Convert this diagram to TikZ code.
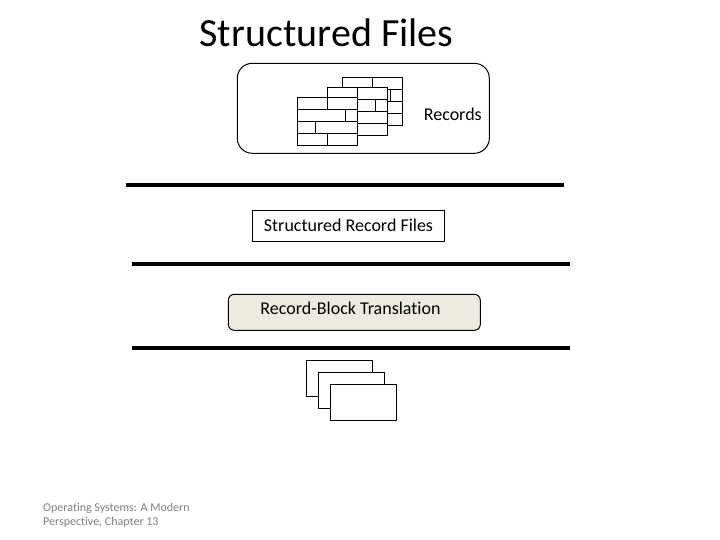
\documentclass[tikz,border=0pt]{standalone}
\usepackage{fontspec}
\setmainfont[Ligatures=NoCommon]{Carlito}
\definecolor{rbtfill}{HTML}{EDEBE0}
\definecolor{footgray}{HTML}{808080}
\tikzset{
  outline/.style={draw=black,line width=1pt},
  sepline/.style={draw=black,line width=4pt},
  sheet/.style={outline,fill=white},
  label/.style={inner sep=0pt,text=black},
}
\newcommand{\recsheet}[2]{%
  \begin{scope}[shift={(#1,#2)}]
    \filldraw[sheet] (0,0) rectangle (60,48);
    \draw[outline] (0,12) -- (60,12) (0,24) -- (60,24) (0,36) -- (60,36)
      (30,0) -- (30,12) (48,12) -- (48,24) (18,24) -- (18,36) (30,36) -- (30,48);
  \end{scope}}
\begin{document}
\begin{tikzpicture}[x=1pt,y=-1pt]
\useasboundingbox (0,0) rectangle (720,540);
\fill[white] (0,0) rectangle (720,540);
\node[label,font=\fontsize{40}{44}\selectfont] (title) at (326.5,33) {Structured Files};
\node[outline,rounded corners=15pt,minimum width=252pt,minimum height=90pt,inner sep=0pt] (recbox) at (363.3,108.3) {};
\recsheet{342.3}{77.3}
\recsheet{327.3}{87.3}
\recsheet{297.3}{97.3}
\node[label,font=\fontsize{18}{20}\selectfont] (records) at (452.8,114.5) {Records};
\draw[sepline] (126,185) -- (564,185);
\node[outline,minimum width=192pt,minimum height=30pt,inner sep=0pt] (srf) at (348,226) {};
\node[label,font=\fontsize{18}{20}\selectfont] (srftext) at (348.5,225) {Structured Record Files};
\draw[sepline] (132,263.5) -- (570,263.5);
\node[outline,fill=rbtfill,rounded corners=6pt,minimum width=252pt,minimum height=36pt,inner sep=0pt] (rbt) at (354.3,312.3) {};
\node[label,font=\fontsize{18}{20}\selectfont] (rbttext) at (350.5,308) {Record-Block Translation};
\draw[sepline] (132,347.5) -- (570,347.5);
\filldraw[sheet] (306.3,360.3) rectangle (372.7,396.3);
\filldraw[sheet] (318.3,372.3) rectangle (384.7,408.3);
\filldraw[sheet] (330.3,384.3) rectangle (396.7,420.3);
\node[label,text=footgray,align=left,anchor=north west,font=\fontsize{12}{14.4}\selectfont] (foot) at (43,503) {Operating Systems: A Modern\\Perspective, Chapter 13};
\end{tikzpicture}
\end{document}
